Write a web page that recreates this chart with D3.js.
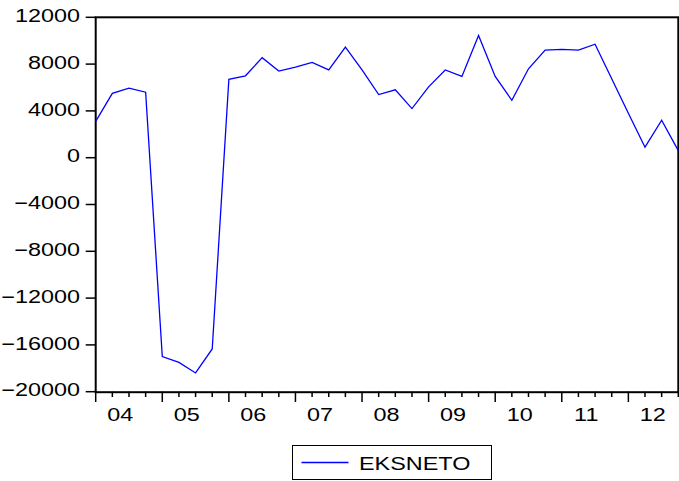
<!DOCTYPE html>
<html><head><meta charset="utf-8">
<script src="https://cdn.jsdelivr.net/npm/d3@7"></script>
<style>body{margin:0;background:#fff}svg{display:block}text{font-family:"Liberation Sans",Arial,sans-serif;fill:#000}</style>
</head><body>
<svg id="c" width="679" height="481"></svg>
<script>
const seriesName = "EKSNETO";
const years = ["04","05","06","07","08","09","10","11","12"];
const quarters = ["2004Q1","2004Q2","2004Q3","2004Q4","2005Q1","2005Q2","2005Q3","2005Q4",
"2006Q1","2006Q2","2006Q3","2006Q4","2007Q1","2007Q2","2007Q3","2007Q4",
"2008Q1","2008Q2","2008Q3","2008Q4","2009Q1","2009Q2","2009Q3","2009Q4",
"2010Q1","2010Q2","2010Q3","2010Q4","2011Q1","2011Q2","2011Q3","2011Q4",
"2012Q1","2012Q2","2012Q3","2012Q4"];
const values = [3100,5500,5950,5600,-17000,-17500,-18400,-16350,
6700,7000,8550,7400,7750,8150,7500,9450,
7500,5400,5800,4200,6050,7500,6950,10450,
6950,4900,7600,9200,9250,9200,9700,6750,
3800,900,3200,600];
const yTicks = [12000,8000,4000,0,-4000,-8000,-12000,-16000,-20000];

const svg = d3.select("#c");
const L=95.7, R=678.3, T=17.3, B=391.7;
const x = d3.scaleLinear().domain([0, quarters.length-1]).range([L, R]);
const y = d3.scaleLinear().domain([-20000, 12000]).range([B, T]);
const SX = 1.3, FS = 18;

// frame
svg.append("rect").attr("x",L).attr("y",T).attr("width",R-L).attr("height",B-T+0.5)
  .attr("fill","none").attr("stroke","#000").attr("stroke-width",2);

// y ticks
yTicks.forEach(v=>{
  svg.append("line").attr("x1",L-10).attr("x2",L).attr("y1",y(v)).attr("y2",y(v))
    .attr("stroke","#000").attr("stroke-width",1.5);
  svg.append("text").attr("text-anchor","end").attr("font-size",FS)
    .attr("transform",`translate(80,${y(v)+4.6}) scale(${SX},1)`).text(d3.format("d")(v));
});

// x ticks
quarters.forEach((q,i)=>{
  const major = q.endsWith("Q1");
  svg.append("line").attr("x1",x(i)).attr("x2",x(i)).attr("y1",B).attr("y2",major?402:397)
    .attr("stroke","#000").attr("stroke-width",1.5);
});
years.forEach((yr,k)=>{
  svg.append("text").attr("text-anchor","middle").attr("font-size",FS)
    .attr("transform",`translate(${x(k*4+1.47)},421) scale(${SX},1)`).text(yr);
});

// line
svg.append("path").datum(values)
  .attr("d", d3.line().x((d,i)=>x(i)).y(d=>y(d)))
  .attr("fill","none").attr("stroke","#0000ff").attr("stroke-width",1.3);

// legend
svg.append("rect").attr("x",292.5).attr("y",445.5).attr("width",199).attr("height",34)
  .attr("fill","#fff").attr("stroke","#000").attr("stroke-width",1);
svg.append("line").attr("x1",301.5).attr("x2",348.5).attr("y1",462.5).attr("y2",462.5)
  .attr("stroke","#0000ff").attr("stroke-width",1.3);
svg.append("text").attr("font-size",FS)
  .attr("transform",`translate(359,469.5) scale(${SX},1)`).text(seriesName);
</script>
</body></html>
